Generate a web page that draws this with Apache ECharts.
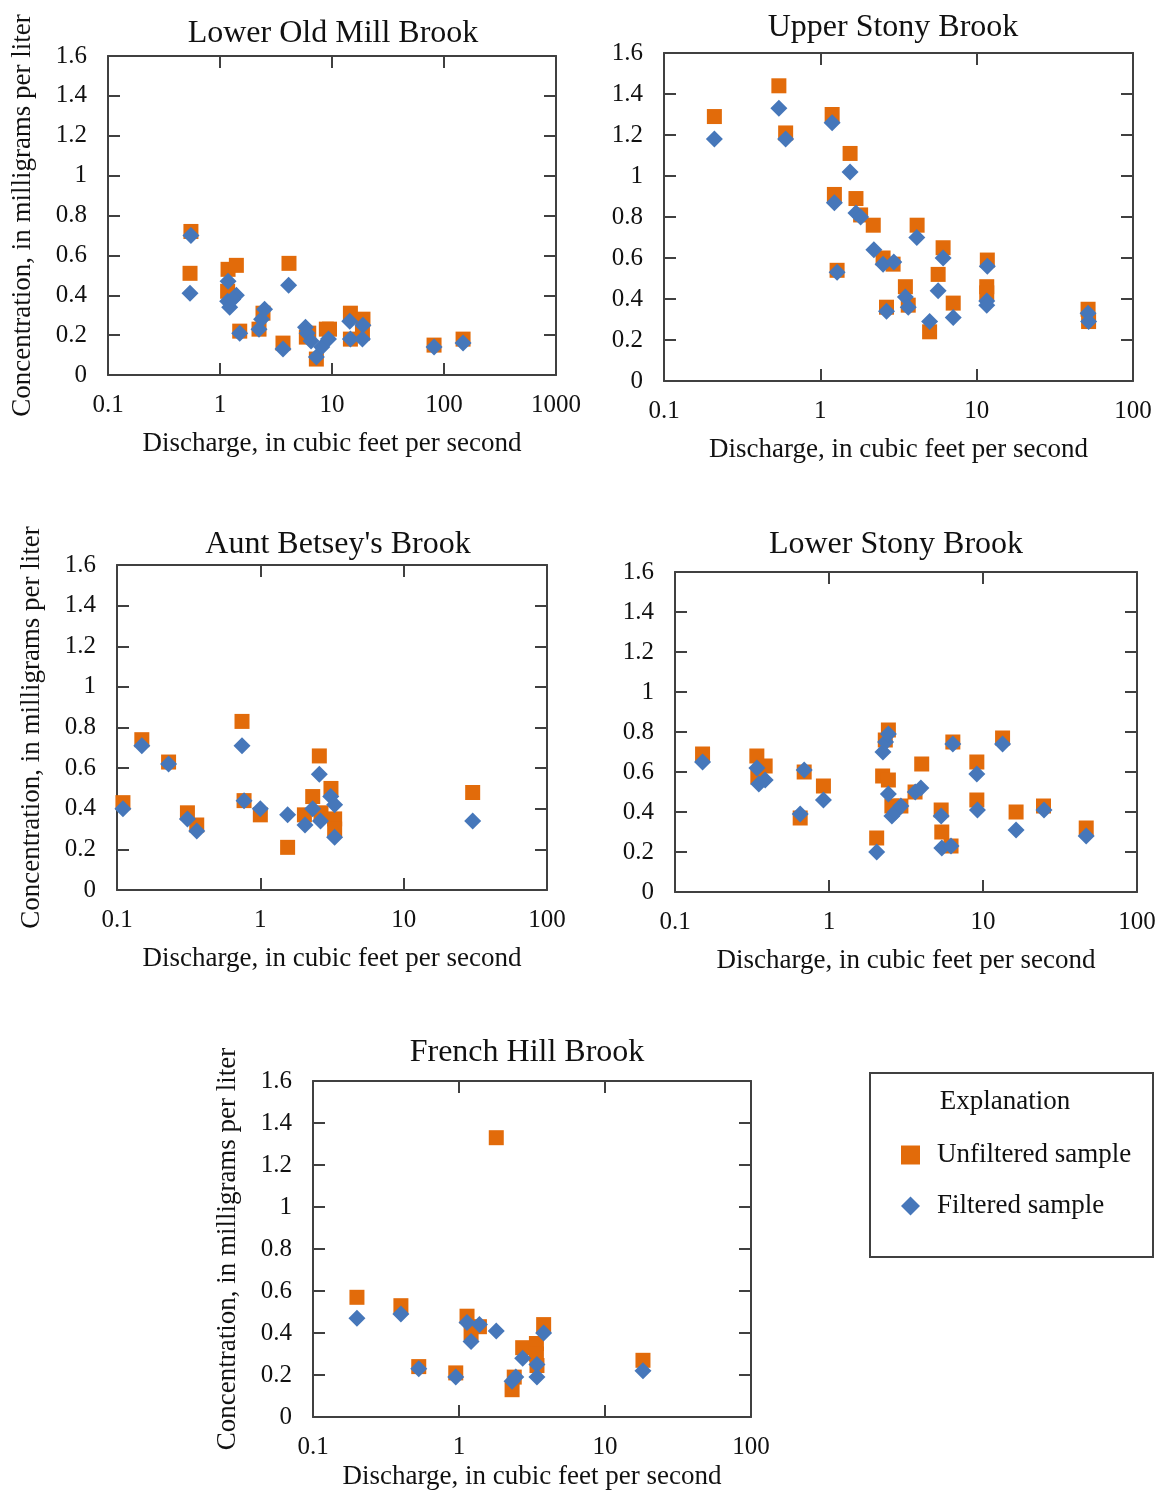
<!DOCTYPE html>
<html>
<head>
<meta charset="utf-8">
<script src="https://cdn.jsdelivr.net/npm/echarts@6.0.0/dist/echarts.min.js"></script>
<style>
  html, body { margin: 0; padding: 0; background: #fff; }
  #chart { width: 1168px; height: 1496px; }
</style>
</head>
<body>
<div id="chart"></div>
<script>
// brook names, one panel each
const brooks = ['Lower Old Mill Brook', 'Upper Stony Brook', "Aunt Betsey's Brook", 'Lower Stony Brook', 'French Hill Brook']
// discharge axis range (log), per panel
const xRanges = [[0.1, 1000], [0.1, 100], [0.1, 100], [0.1, 100], [0.1, 100]]
// concentration axis
const yMin = 0
const yMax = 1.6
const yStep = 0.2

// [discharge, concentration] pairs
const oldMillUnfiltered = [[0.55, 0.72], [0.54, 0.51], [1.18, 0.53], [1.40, 0.55], [1.17, 0.42], [1.50, 0.22], [2.23, 0.23], [2.42, 0.31], [4.13, 0.56], [3.65, 0.16], [5.9, 0.19], [6.2, 0.21], [8.9, 0.23], [9.5, 0.23], [7.25, 0.08], [14.6, 0.31], [18.9, 0.28], [14.6, 0.18], [18.7, 0.21], [81.5, 0.15], [148, 0.18]]
const oldMillFiltered = [[0.55, 0.70], [0.54, 0.41], [1.18, 0.47], [1.17, 0.37], [1.22, 0.34], [1.40, 0.40], [1.30, 0.38], [1.50, 0.21], [2.23, 0.23], [2.35, 0.28], [2.50, 0.33], [4.1, 0.45], [3.65, 0.13], [5.8, 0.24], [6.0, 0.21], [6.5, 0.17], [7.25, 0.09], [8.1, 0.14], [9.3, 0.18], [14.4, 0.27], [18.9, 0.25], [14.6, 0.18], [18.7, 0.18], [81.5, 0.14], [148, 0.16]]

const upperStonyUnfiltered = [[0.21, 1.29], [0.543, 1.44], [0.60, 1.21], [1.19, 1.30], [1.55, 1.11], [1.23, 0.91], [1.69, 0.89], [1.81, 0.81], [2.18, 0.76], [4.16, 0.76], [1.28, 0.54], [2.52, 0.60], [2.92, 0.57], [6.1, 0.65], [5.67, 0.52], [11.7, 0.59], [11.6, 0.46], [11.6, 0.43], [3.5, 0.46], [2.65, 0.36], [3.65, 0.37], [7.08, 0.38], [5.0, 0.24], [51.6, 0.35], [52, 0.29]]
const upperStonyFiltered = [[0.21, 1.18], [0.543, 1.33], [0.60, 1.18], [1.19, 1.26], [1.55, 1.02], [1.23, 0.87], [1.69, 0.82], [1.81, 0.80], [2.2, 0.64], [4.14, 0.70], [1.28, 0.53], [2.52, 0.57], [2.95, 0.58], [6.1, 0.60], [5.67, 0.44], [11.7, 0.56], [11.6, 0.39], [11.6, 0.37], [3.5, 0.41], [3.65, 0.36], [2.65, 0.34], [7.08, 0.31], [5.0, 0.29], [51.6, 0.33], [52, 0.29]]

const auntBetseyUnfiltered = [[0.11, 0.43], [0.149, 0.74], [0.229, 0.63], [0.31, 0.38], [0.36, 0.32], [0.745, 0.83], [0.77, 0.44], [1.0, 0.37], [1.55, 0.21], [2.03, 0.37], [2.32, 0.46], [2.58, 0.66], [2.65, 0.38], [3.11, 0.50], [3.3, 0.35], [3.3, 0.30], [30.3, 0.48]]
const auntBetseyFiltered = [[0.11, 0.40], [0.149, 0.71], [0.229, 0.62], [0.31, 0.35], [0.36, 0.29], [0.745, 0.71], [0.77, 0.44], [1.0, 0.40], [1.55, 0.37], [2.05, 0.32], [2.32, 0.40], [2.58, 0.57], [2.63, 0.34], [3.1, 0.46], [3.3, 0.42], [3.3, 0.26], [30.3, 0.34]]

const lowerStonyUnfiltered = [[0.151, 0.69], [0.34, 0.68], [0.385, 0.63], [0.345, 0.575], [0.69, 0.60], [0.65, 0.37], [0.92, 0.53], [2.04, 0.27], [2.23, 0.58], [2.43, 0.56], [2.43, 0.81], [2.32, 0.76], [2.56, 0.43], [2.93, 0.43], [3.62, 0.50], [4.0, 0.64], [5.35, 0.41], [5.4, 0.30], [6.2, 0.23], [6.37, 0.75], [9.12, 0.65], [9.12, 0.46], [13.4, 0.77], [16.4, 0.40], [24.7, 0.43], [46.8, 0.32]]
const lowerStonyFiltered = [[0.151, 0.65], [0.34, 0.62], [0.35, 0.54], [0.385, 0.56], [0.69, 0.61], [0.65, 0.39], [0.92, 0.46], [2.04, 0.20], [2.24, 0.70], [2.33, 0.75], [2.43, 0.79], [2.43, 0.49], [2.56, 0.38], [2.7, 0.40], [2.93, 0.43], [3.63, 0.50], [3.95, 0.52], [5.35, 0.38], [5.4, 0.22], [6.2, 0.23], [6.37, 0.74], [9.12, 0.59], [9.2, 0.41], [13.4, 0.74], [16.4, 0.31], [24.9, 0.41], [46.8, 0.28]]

const frenchHillUnfiltered = [[0.20, 0.57], [0.40, 0.53], [0.53, 0.24], [0.95, 0.21], [1.135, 0.48], [1.21, 0.40], [1.38, 0.43], [1.80, 1.33], [2.39, 0.19], [2.31, 0.13], [2.73, 0.33], [3.39, 0.35], [3.39, 0.30], [3.42, 0.245], [3.80, 0.44], [18.2, 0.27]]
const frenchHillFiltered = [[0.20, 0.47], [0.40, 0.49], [0.53, 0.23], [0.95, 0.19], [1.135, 0.45], [1.21, 0.36], [1.38, 0.44], [1.80, 0.41], [2.31, 0.17], [2.45, 0.19], [2.73, 0.28], [3.42, 0.25], [3.42, 0.19], [3.80, 0.40], [18.2, 0.22]]

const unfiltered = [oldMillUnfiltered, upperStonyUnfiltered, auntBetseyUnfiltered, lowerStonyUnfiltered, frenchHillUnfiltered]
const filtered = [oldMillFiltered, upperStonyFiltered, auntBetseyFiltered, lowerStonyFiltered, frenchHillFiltered]

// layout
const grids = [
  { left: 108, top: 56, width: 448, height: 319 },
  { left: 664, top: 53, width: 469, height: 328 },
  { left: 117, top: 565, width: 430, height: 325 },
  { left: 675, top: 572, width: 462, height: 320 },
  { left: 313, top: 1081, width: 438, height: 336 }
]
const titlePos = [[333, 18], [893, 12], [338, 529], [896, 529], [527, 1037]]
const showYName = [true, false, true, false, true]
const xNameGap = [55, 55, 55, 55, 46]

const FONT = 'Liberation Serif'
const INK = '#111'
const LINE = '#404040'
const ORANGE = '#e26b0a'
const BLUE = '#4677ba'

const chart = echarts.init(document.getElementById('chart'), null, { renderer: 'canvas' })

const fmtLog = v => String(Number(v.toPrecision(3)))
const lineStyle = { color: LINE, width: 2 }

const xAxis = []
const yAxis = []
const series = []
const title = []

brooks.forEach((name, i) => {
  title.push({
    text: name,
    left: titlePos[i][0],
    top: titlePos[i][1],
    textAlign: 'center',
    padding: 0,
    textStyle: { fontFamily: FONT, fontSize: 32, fontWeight: 'normal', color: INK }
  })
  const logBase = {
    type: 'log',
    logBase: 10,
    gridIndex: i,
    min: xRanges[i][0],
    max: xRanges[i][1],
    axisLine: { show: true, onZero: false, lineStyle },
    axisTick: { show: true, inside: true, length: 12, lineStyle },
    splitLine: { show: false },
    minorTick: { show: false }
  }
  xAxis.push(Object.assign({}, logBase, {
    position: 'bottom',
    name: 'Discharge, in cubic feet per second',
    nameLocation: 'middle',
    nameGap: xNameGap[i],
    nameTextStyle: { fontFamily: FONT, fontSize: 27, color: INK },
    axisLabel: {
      show: true, margin: 18, fontFamily: FONT, fontSize: 25, color: INK,
      showMinLabel: true, showMaxLabel: true, hideOverlap: false, formatter: fmtLog
    }
  }))
  xAxis.push(Object.assign({}, logBase, { position: 'top', axisLabel: { show: false } }))

  const valBase = {
    type: 'value',
    gridIndex: i,
    min: yMin,
    max: yMax,
    interval: yStep,
    axisLine: { show: true, onZero: false, lineStyle },
    axisTick: { show: true, inside: true, length: 12, lineStyle },
    splitLine: { show: false }
  }
  yAxis.push(Object.assign({}, valBase, {
    position: 'left',
    name: showYName[i] ? 'Concentration, in milligrams per liter' : '',
    nameLocation: 'middle',
    nameRotate: 90,
    nameGap: 72,
    nameTextStyle: { fontFamily: FONT, fontSize: 27, color: INK },
    axisLabel: {
      show: true, margin: 21, fontFamily: FONT, fontSize: 25, color: INK,
      showMinLabel: true, showMaxLabel: true
    }
  }))
  yAxis.push(Object.assign({}, valBase, { position: 'right', axisLabel: { show: false } }))

  series.push({
    name: 'Unfiltered sample',
    type: 'scatter',
    xAxisIndex: 2 * i,
    yAxisIndex: 2 * i,
    symbol: 'rect',
    symbolSize: 15,
    itemStyle: { color: ORANGE, opacity: 1 },
    data: unfiltered[i],
    z: 2
  })
  series.push({
    name: 'Filtered sample',
    type: 'scatter',
    xAxisIndex: 2 * i,
    yAxisIndex: 2 * i,
    symbol: 'diamond',
    symbolSize: 17,
    itemStyle: { color: BLUE, opacity: 1 },
    data: filtered[i],
    z: 3
  })
})

chart.setOption({
  animation: false,
  backgroundColor: '#fff',
  title,
  grid: grids.map(g => Object.assign({ containLabel: false }, g)),
  xAxis,
  yAxis,
  series,
  legend: {
    left: 901,
    top: 1140,
    orient: 'vertical',
    selectedMode: false,
    itemWidth: 19,
    itemHeight: 19,
    itemGap: 21,
    padding: 0,
    data: [
      { name: 'Unfiltered sample', icon: 'rect' },
      { name: 'Filtered sample', icon: 'diamond' }
    ],
    itemStyle: { opacity: 1 },
    textStyle: { fontFamily: FONT, fontSize: 27, color: INK, lineHeight: 30, padding: [0, 0, 0, 12] }
  },
  graphic: [
    {
      type: 'rect',
      shape: { x: 870, y: 1073, width: 283, height: 184 },
      style: { fill: 'none', stroke: LINE, lineWidth: 2 }
    },
    {
      type: 'text',
      x: 1005,
      y: 1102,
      style: { text: 'Explanation', font: '27px "Liberation Serif"', fill: INK, align: 'center', verticalAlign: 'middle' }
    }
  ]
})
</script>
</body>
</html>
